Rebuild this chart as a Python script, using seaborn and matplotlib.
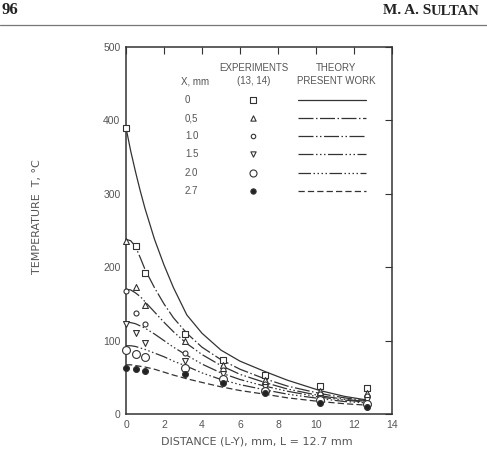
import matplotlib
matplotlib.use("Agg")
import matplotlib.pyplot as plt
import pandas as pd
import seaborn as sns

# ---------------- data ----------------
series_labels = ["0", "0,5", "1.0", "1.5", "2.0", "2.7"]

dist_theory = [0, 0.25, 0.5, 0.75, 1.0, 1.5, 2.0, 2.5, 3.2, 4.0, 5.0, 6.0, 7.3, 8.5, 10.2, 11.5, 12.7]
theory_x00 = [390, 358, 330, 304, 280, 238, 203, 172, 135, 110, 87, 72, 58, 46, 32, 24, 19]
theory_x05 = [238, 236, 228, 213, 197, 172, 150, 131, 110, 91, 74, 61, 48, 38, 28, 22, 18]
theory_x10 = [170, 169, 165, 160, 153, 139, 125, 112, 96, 81, 66, 54, 43, 34, 25, 20, 17]
theory_x15 = [125, 124.5, 123, 120, 117, 109, 100, 91, 80, 68, 56, 47, 38, 31, 23, 19, 16]
theory_x20 = [93, 93, 92, 90, 88, 83, 78, 72, 65, 56, 47, 40, 33, 27, 21, 17, 15]
theory_x27 = [67, 67, 66, 65, 64, 61, 57, 53, 48, 43, 37, 32, 27, 22, 17, 14, 12]

dist_exp = [0, 0.5, 1.0, 3.1, 5.1, 7.3, 10.2, 12.7]
exp_x00 = [390, 229, 192, 109, 73, 53, 38, 35]
exp_x05 = [236, 173, 148, 99, 67, 47, 32, 29]
exp_x10 = [168, 137, 122, 83, 60, 41, 27, 24]
exp_x15 = [122, 110, 97, 72, 54, 37, 22, 19]
exp_x20 = [87, 82, 78, 62, 48, 32, 19, 14]
exp_x27 = [62, 61, 59, 54, 42, 29, 15.5, 10]

x_ticks = [0, 2, 4, 6, 8, 10, 12, 14]
y_ticks = [0, 100, 200, 300, 400, 500]

theory_all = [theory_x00, theory_x05, theory_x10, theory_x15, theory_x20, theory_x27]
exp_all = [exp_x00, exp_x05, exp_x10, exp_x15, exp_x20, exp_x27]

# ---------------- styles ----------------
dash_map = {
    "0": "",
    "0,5": (12, 2, 1.2, 2),
    "1.0": (12, 2, 1.2, 2, 1.2, 2),
    "1.5": (12, 2, 1.2, 2, 1.2, 2, 1.2, 2),
    "2.0": (10, 2, 1.2, 2, 1.2, 2, 1.2, 2, 1.2, 2),
    "2.7": (5, 2.5),
}
marker_map = {"0": "s", "0,5": "^", "1.0": "o", "1.5": "v", "2.0": "o", "2.7": "o"}
size_map = {"0": 24, "0,5": 18, "1.0": 13, "1.5": 18, "2.0": 32, "2.7": 18}
face_map = {"0": "white", "0,5": "white", "1.0": "white", "1.5": "white",
            "2.0": "white", "2.7": "#222222"}

INK = "#333333"
TXT = "#555555"

sns.set_theme(style="white")
plt.rcParams["font.family"] = ["Liberation Sans", "DejaVu Sans"]

df_th = pd.DataFrame({
    "d": [d for _ in series_labels for d in dist_theory],
    "T": [v for ser in theory_all for v in ser],
    "X": [lab for lab in series_labels for _ in dist_theory],
})
df_ex = pd.DataFrame({
    "d": [d for _ in series_labels for d in dist_exp],
    "T": [v for ser in exp_all for v in ser],
    "X": [lab for lab in series_labels for _ in dist_exp],
})

fig = plt.figure(figsize=(4.87, 4.5), dpi=100)
ax = fig.add_axes([126 / 487, 36 / 450, 266 / 487, 367 / 450])

sns.lineplot(data=df_th, x="d", y="T", style="X", dashes=dash_map,
             color=INK, linewidth=0.9, legend=False, estimator=None,
             sort=False, ax=ax)

for lab in series_labels:
    sub = df_ex[df_ex["X"] == lab]
    sns.scatterplot(data=sub, x="d", y="T", marker=marker_map[lab],
                    s=size_map[lab], facecolor=face_map[lab],
                    edgecolor=INK, linewidth=0.8, ax=ax, zorder=5,
                    clip_on=False)

ax.set_xlim(0, 14)
ax.set_ylim(0, 500)
ax.set_xticks(x_ticks)
ax.set_yticks(y_ticks)
ax.set_xlabel("")
ax.set_ylabel("")
ax.tick_params(direction="in", length=5, width=0.8, color=INK,
               top=True, right=True, labeltop=False, labelright=False,
               labelsize=7.5, labelcolor=TXT, pad=4)
for sp in ax.spines.values():
    sp.set_color(INK)
    sp.set_linewidth(1.1)
    sp.set_visible(True)

# ---------------- in-plot legend table ----------------
tA = ax.transAxes
hdr_kw = dict(transform=tA, ha="center", va="center", fontsize=7, color=TXT)
ax.text(0.481, 0.944, "EXPERIMENTS", **hdr_kw)
ax.text(0.481, 0.907, "(13, 14)", **hdr_kw)
ax.text(0.789, 0.944, "THEORY", **hdr_kw)
ax.text(0.789, 0.907, "PRESENT WORK", **hdr_kw)
ax.text(0.259, 0.907, "X, mm", **hdr_kw)

row_y = [0.856, 0.806, 0.757, 0.708, 0.657, 0.608]
for lab, ry in zip(series_labels, row_y):
    ax.text(0.222, ry, lab, transform=tA, ha="left", va="center",
            fontsize=7, color=TXT)
    ax.scatter([0.477], [ry], transform=tA, marker=marker_map[lab],
               s=size_map[lab] * 0.8, facecolor=face_map[lab],
               edgecolor=INK, linewidth=0.8, zorder=5)
    ls = "-" if dash_map[lab] == "" else (0, dash_map[lab])
    ax.plot([0.647, 0.902], [ry, ry], transform=tA, color=INK,
            linewidth=0.9, linestyle=ls)

# ---------------- axis titles ----------------
fig.text(257 / 487, 1 - 442 / 450, "DISTANCE (L-Y), mm, L = 12.7 mm",
         ha="center", va="center", fontsize=8, color=TXT, family="DejaVu Sans")
fig.text(37 / 487, 1 - 217 / 450, "TEMPERATURE  T, °C", rotation=90,
         ha="center", va="center", fontsize=8, color=TXT, family="DejaVu Sans")

# ---------------- page header ----------------
fig.text(1 / 487, 1 - 10 / 450, "96", ha="left", va="center",
         fontsize=12, fontweight="bold", family="Liberation Serif", color="#222222")
fig.text(431 / 487, 1 - 11 / 450, "M. A. S", ha="right", va="center",
         fontsize=11, fontweight="bold", family="Liberation Serif", color="#222222")
fig.text(431 / 487, 1 - 11.5 / 450, "ULTAN", ha="left", va="center",
         fontsize=10.5, fontweight="bold", family="Liberation Serif", color="#222222")
fig.add_artist(plt.Line2D([0, 1], [1 - 25 / 450, 1 - 25 / 450],
                          transform=fig.transFigure, color="#777777", linewidth=0.9))

fig.savefig("out.png", dpi=100, facecolor="white")
